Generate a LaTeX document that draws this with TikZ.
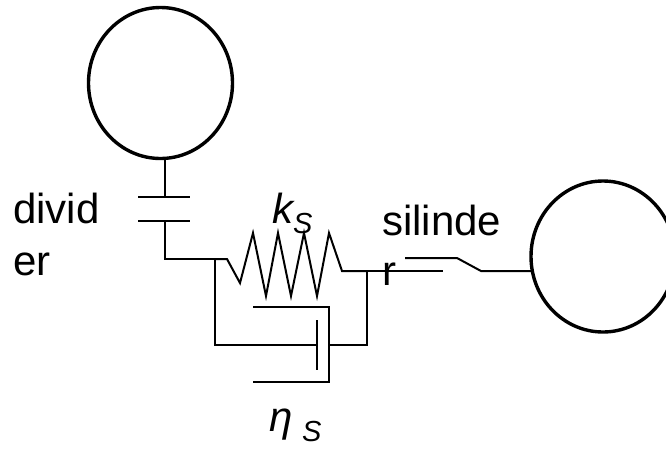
\documentclass[tikz,border=0pt]{standalone}
\usepackage{fontspec}
\setmainfont{Liberation Sans}
\usetikzlibrary{shapes.geometric}
\tikzset{
  wire/.style={draw=black, line width=2pt},
  ball/.style={ellipse, draw=black, line width=3.4pt, minimum width=144pt, minimum height=151pt, inner sep=0pt},
  lbl/.style={anchor=base west, inner sep=0pt, font=\fontsize{42}{42}\selectfont},
  sublbl/.style={anchor=base west, inner sep=0pt, font=\fontsize{29}{29}\selectfont\itshape},
}
\begin{document}
\begin{tikzpicture}[x=1pt, y=-1pt]
        \useasboundingbox (0,0) rectangle (666,448);
        \clip (0,0) rectangle (666,448);
        % masses
        \node[ball] (topball) at (160.5,83) {};
        \node[ball] (rightball) at (603,256.5) {};
        % divider
        \coordinate (divtop) at (164.5,197);
        \coordinate (divbot) at (164.5,221);
        \coordinate (junL) at (215,259);
        \coordinate (junR) at (367,271);
        \draw[wire] (topball.south -| divtop) -- (divtop);
        \draw[wire] (138,197) -- (190,197);
        \draw[wire] (138,221) -- (190,221);
        \draw[wire] (divbot) -- (164.5,259) -- (junL);
        % spring
        \draw[wire] (junL) -- (227,259) -- (240,283) -- (253,233) -- (266,296)
        -- (278,233) -- (291,296) -- (304,233) -- (317,296) -- (329,233)
        -- (342,271) -- (junR);
        % damper
        \coordinate (plate) at (317,345);
        \coordinate (cyl) at (329,345);
        \draw[wire] (junL) -- (215,345) -- (plate);
        \draw[wire] (317,320) -- (317,370);
        \draw[wire] (253,307) -- (329,307) -- (329,382) -- (253,382);
        \draw[wire] (cyl) -- (367,345) -- (junR);
        % cylinder
        \draw[wire] (junR) -- (443,271);
        \draw[wire] (405,258) -- (457,258) -- (481,271) -- (533,271);
        % labels
        \node[lbl] (lbldiv) at (13,223) {divid};
        \node[lbl] (lbler) at (13,275) {er};
        \node[lbl] (lblsil) at (382,235) {silinde};
        \node[lbl] (lblr) at (382,285) {r};
        \node[lbl, font=\fontsize{42}{42}\selectfont\itshape] (lblk) at (272,223) {k};
        \node[sublbl] (lbls) at (293,233) {S};
        \node[lbl, font=\fontsize{42}{42}\selectfont\itshape] (lbleta) at (269,431) {η};
        \node[sublbl] (lbls2) at (302,441) {S};
\end{tikzpicture}
\end{document}
